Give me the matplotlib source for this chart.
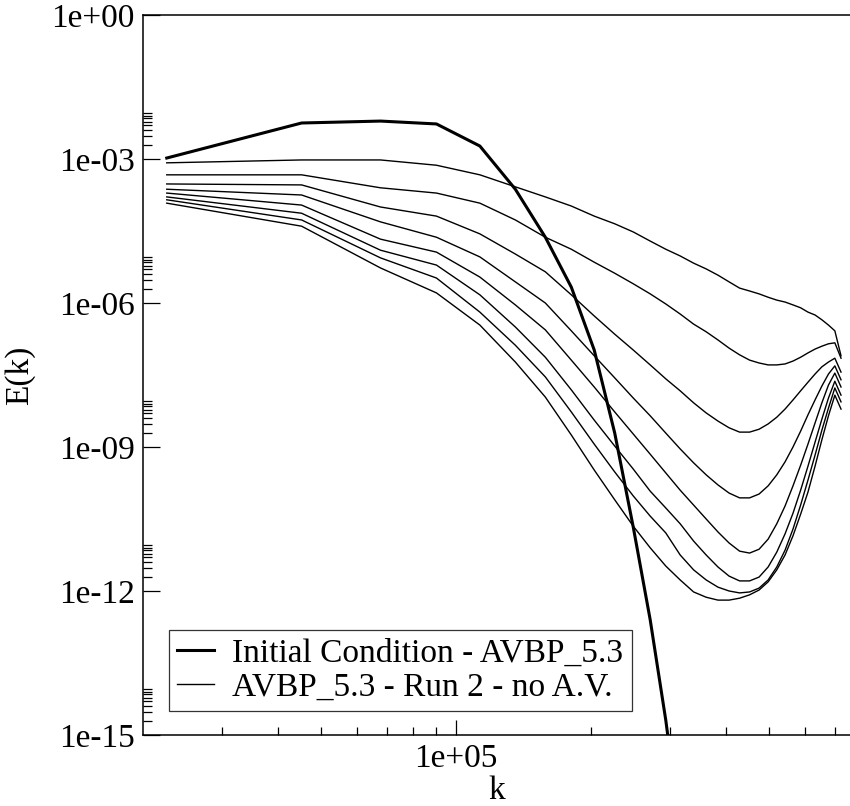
import numpy as np
import matplotlib
matplotlib.use("Agg")
import matplotlib.pyplot as plt
from matplotlib.ticker import FixedLocator, NullFormatter

plt.rcParams['font.family'] = ['Liberation Serif', 'DejaVu Serif']

# wavenumbers (multiples of the base mode), in units of 1e4
k = np.array([2.26, 4.52, 6.78, 9.04, 11.3, 13.56, 15.82, 18.08, 20.34, 22.6,
              24.86, 27.12, 29.38, 31.64, 33.9, 36.16, 38.42, 40.68, 42.94, 45.2,
              47.46, 49.72, 51.98, 54.24, 56.5, 58.76, 61.02, 63.28, 65.54, 67.8,
              70.06, 72.32]) * 1e4

# log10 E(k)
log_init = [-2.98, -2.25, -2.21, -2.27, -2.73, -3.63, -4.63, -5.67, -6.98, -8.71,
            -10.67, -12.60, -14.69, -16.98]

log_run = [
    [-3.08, -3.02, -3.02, -3.13, -3.33, -3.58, -3.79, -3.98, -4.19, -4.35,
     -4.52, -4.71, -4.88, -5.02, -5.17, -5.29, -5.42, -5.56, -5.69, -5.75,
     -5.81, -5.88, -5.94, -5.98, -6.04, -6.10, -6.19, -6.25, -6.35, -6.46,
     -6.58, -7.10],
    [-3.33, -3.33, -3.60, -3.71, -3.92, -4.27, -4.63, -4.88, -5.15, -5.38,
     -5.60, -5.81, -6.02, -6.23, -6.44, -6.60, -6.77, -6.94, -7.08, -7.19,
     -7.25, -7.29, -7.29, -7.27, -7.21, -7.13, -7.04, -6.96, -6.90, -6.85,
     -6.83, -7.15],
    [-3.52, -3.54, -4.00, -4.19, -4.56, -4.98, -5.35, -5.83, -6.27, -6.65,
     -6.98, -7.29, -7.58, -7.83, -8.08, -8.29, -8.46, -8.60, -8.69, -8.69,
     -8.63, -8.52, -8.38, -8.21, -8.02, -7.83, -7.65, -7.48, -7.33, -7.23,
     -7.15, -7.44],
    [-3.63, -3.75, -4.31, -4.63, -5.04, -5.56, -6.00, -6.58, -7.10, -7.56,
     -7.98, -8.35, -8.71, -9.04, -9.33, -9.58, -9.79, -9.96, -10.06, -10.06,
     -9.98, -9.81, -9.58, -9.31, -9.00, -8.67, -8.33, -8.02, -7.73, -7.48,
     -7.31, -7.60],
    [-3.71, -3.96, -4.67, -4.94, -5.46, -6.04, -6.56, -7.19, -7.75, -8.27,
     -8.73, -9.15, -9.54, -9.90, -10.21, -10.50, -10.77, -11.00, -11.17, -11.21,
     -11.13, -10.92, -10.60, -10.23, -9.81, -9.38, -8.94, -8.50, -8.08, -7.71,
     -7.46, -7.75],
    [-3.79, -4.13, -4.90, -5.21, -5.83, -6.50, -7.13, -7.81, -8.44, -8.98,
     -9.46, -9.92, -10.27, -10.60, -10.96, -11.25, -11.50, -11.69, -11.79, -11.79,
     -11.71, -11.50, -11.19, -10.81, -10.38, -9.90, -9.40, -8.90, -8.42, -7.98,
     -7.63, -7.92],
    [-3.85, -4.27, -5.06, -5.48, -6.19, -6.88, -7.54, -8.27, -8.94, -9.52,
     -10.02, -10.44, -10.79, -11.25, -11.56, -11.77, -11.92, -12.00, -12.04, -12.02,
     -11.94, -11.77, -11.50, -11.15, -10.71, -10.21, -9.69, -9.17, -8.65, -8.19,
     -7.77, -8.06],
    [-3.92, -4.40, -5.27, -5.79, -6.46, -7.23, -7.96, -8.75, -9.48, -10.10,
     -10.65, -11.10, -11.48, -11.77, -12.02, -12.13, -12.19, -12.19, -12.15, -12.08,
     -11.98, -11.81, -11.56, -11.25, -10.85, -10.40, -9.94, -9.40, -8.85, -8.35,
     -7.92, -8.21],
]

y_major = [1e0, 1e-3, 1e-6, 1e-9, 1e-12, 1e-15]
y_labels = ['1e+00', '1e-03', '1e-06', '1e-09', '1e-12', '1e-15']

fig = plt.figure(figsize=(8.5, 8.06), dpi=100)
ax = fig.add_axes([0.1682, 0.0881, 0.8329, 0.8933])

ax.plot(k[:len(log_init)], 10 ** np.array(log_init), color='black', lw=2.2,
        label='Initial Condition - AVBP_5.3')
for i, run in enumerate(log_run):
    ax.plot(k, 10 ** np.array(run), color='black', lw=1.0,
            label='AVBP_5.3 - Run 2 - no A.V.' if i == 0 else None)

ax.set_xscale('log')
ax.set_yscale('log')
ax.set_xlim(2e4, 7.61e5)
ax.set_ylim(1e-15, 1e0)

ax.yaxis.set_major_locator(FixedLocator(y_major))
ax.set_yticklabels(y_labels)
y_minor = [m * v for v in y_major for m in range(2, 10) if m * v < 1]
ax.yaxis.set_minor_locator(FixedLocator(y_minor))
ax.yaxis.set_minor_formatter(NullFormatter())

ax.xaxis.set_major_locator(FixedLocator([1e5]))
ax.set_xticklabels(['1e+05'])
x_minor = [m * 1e4 for m in range(3, 10)] + [m * 1e5 for m in range(2, 8)]
ax.xaxis.set_minor_locator(FixedLocator(x_minor))
ax.xaxis.set_minor_formatter(NullFormatter())

ax.tick_params(which='both', direction='in', top=False, right=False,
               labelsize=24, width=0.9, colors='black')
ax.tick_params(axis='y', which='major', length=12, pad=6)
ax.tick_params(axis='y', which='minor', length=6.5)
ax.tick_params(axis='x', which='major', length=11, pad=6)
ax.tick_params(axis='x', which='minor', length=5.5)

for side in ['left', 'bottom', 'top']:
    ax.spines[side].set_linewidth(1.1)
ax.spines['right'].set_visible(False)

ax.set_xlabel('k', fontsize=24, labelpad=1)
ax.set_ylabel('E(k)', fontsize=24, labelpad=12)

leg = ax.legend(loc='lower left', bbox_to_anchor=(0.0367, 0.0333),
                borderaxespad=0, fontsize=24, frameon=True, fancybox=False,
                edgecolor='black', handlelength=1.1, handletextpad=0.55,
                borderpad=0.25, labelspacing=0.1)
leg.get_frame().set_linewidth(0.9)

fig.savefig('out.png', dpi=100)
